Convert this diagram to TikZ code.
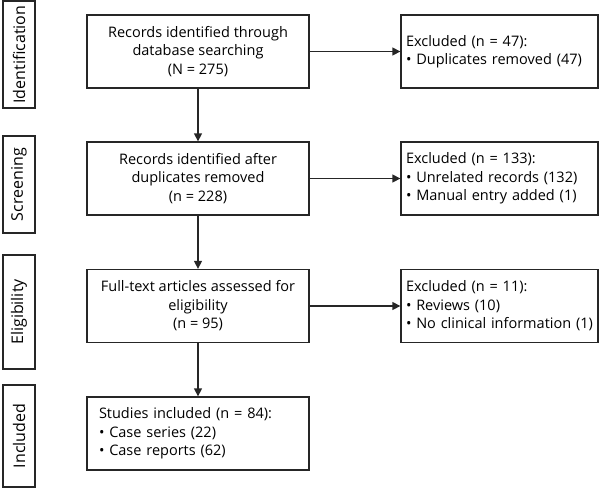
\documentclass[tikz,border=0pt]{standalone}
\usepackage{fontspec}
\setmainfont{Open Sans}
\usetikzlibrary{arrows.meta}
\begin{document}
\begin{tikzpicture}[x=1pt,y=-1pt,
  box/.style={draw=black!85, line width=1.3pt, inner sep=0pt},
  mainbox/.style={box, minimum width=222pt, minimum height=73pt, align=center,
    font=\fontsize{14.5}{18.5}\selectfont},
  sidebox/.style={box, minimum width=197pt, minimum height=73pt, align=left,
    text width=187pt, font=\fontsize{14.5}{18.5}\selectfont},
  stagebox/.style={box, minimum width=32pt, rotate=90,
    font=\fontsize{16}{19}\selectfont},
  conn/.style={draw=black!85, line width=1.3pt, -{Triangle[length=8pt,width=8pt]}}]
\useasboundingbox (0,0) rectangle (600,499);
% stage labels
\node[stagebox, minimum width=107pt, minimum height=32pt] (sid) at (19,54.5) {Identification};
\node[stagebox, minimum width=97pt, minimum height=32pt] (ssc) at (19,184.5) {Screening};
\node[stagebox, minimum width=114pt, minimum height=32pt] (sel) at (19,312) {Eligibility};
\node[stagebox, minimum width=102pt, minimum height=32pt] (sin) at (19,436) {Included};
% main boxes
\node[mainbox] (m1) at (198,51.5) {Records identified through\\database searching\\(N = 275)};
\node[mainbox] (m2) at (198,178.5) {Records identified after\\duplicates removed\\(n = 228)};
\node[mainbox] (m3) at (198,306) {Full-text articles assessed for\\eligibility\\(n = 95)};
\node[mainbox, align=left, text width=198pt] (m4) at (198,433.5) {Studies included (n = 84):\\• Case series (22)\\• Case reports (62)};
% side boxes
\node[sidebox] (e1) at (499.5,51.5) {Excluded (n = 47):\\• Duplicates removed (47)};
\node[sidebox] (e2) at (499.5,178.5) {Excluded (n = 133):\\• Unrelated records (132)\\• Manual entry added (1)};
\node[sidebox] (e3) at (499.5,306) {Excluded (n = 11):\\• Reviews (10)\\• No clinical information (1)};
% connectors
\draw[conn] (m1) -- (m2);
\draw[conn] (m2) -- (m3);
\draw[conn] (m3) -- (m4);
\draw[conn] (m1) -- (e1);
\draw[conn] (m2) -- (e2);
\draw[conn] (m3) -- (e3);
\end{tikzpicture}
\end{document}
